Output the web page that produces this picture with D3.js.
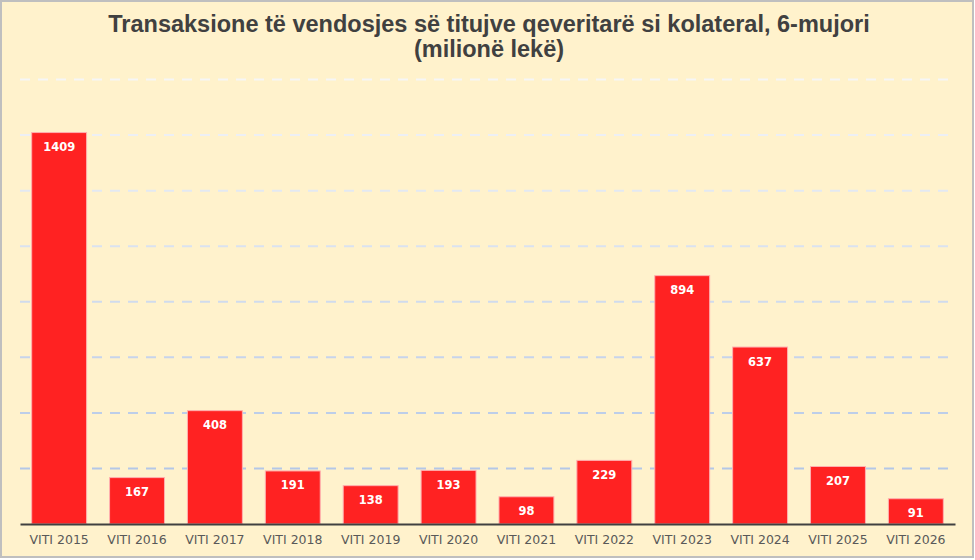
<!doctype html>
<html>
<head>
    <meta charset="utf-8">
    <style>
        body { margin: 0; }
        svg { display: block; }
        .bar { fill: #ff2222; stroke: #ffb0b0; stroke-width: 1; }
    </style>
    <script src="https://d3js.org/d3.v7.min.js"></script>
</head>
<body>
<svg width="975" height="560"></svg>
<script>
    var years = ["VITI 2015", "VITI 2016", "VITI 2017", "VITI 2018", "VITI 2019", "VITI 2020",
                 "VITI 2021", "VITI 2022", "VITI 2023", "VITI 2024", "VITI 2025", "VITI 2026"];
    var values = [1409, 167, 408, 191, 138, 193, 98, 229, 894, 637, 207, 91];
    var gridTicks = [200, 400, 600, 800, 1000, 1200, 1400, 1600];
    var titleLines = ["Transaksione të vendosjes së titujve qeveritarë si kolateral, 6-mujori",
                      "(milionë lekë)"];

    var svg = d3.select("svg");

    // background + frame
    svg.append("rect")
       .attr("x", 1).attr("y", 1)
       .attr("width", 972).attr("height", 556)
       .attr("fill", "#fff2cc")
       .attr("stroke", "#bfbfbf")
       .attr("stroke-width", 2);

    var plotLeft = 20, plotRight = 955, plotTop = 79.5, plotBottom = 524;

    var xScale = d3.scaleBand()
        .domain(years)
        .range([plotLeft, plotRight])
        .paddingInner(0.295)
        .paddingOuter(0.15);

    var yScale = d3.scaleLinear()
        .domain([0, 1600])
        .range([plotBottom, plotTop]);

    // gridlines fade from white at the top to light blue near the axis
    var gridColor = d3.scaleLinear()
        .domain([1600, 200])
        .range(["#f6f6f6", "#b4c7e7"]);

    svg.append("g")
       .selectAll("line")
       .data(gridTicks)
       .enter().append("line")
       .attr("x1", plotLeft)
       .attr("x2", plotRight - 2)
       .attr("y1", function(d) { return yScale(d); })
       .attr("y2", function(d) { return yScale(d); })
       .attr("stroke", function(d) { return gridColor(d); })
       .attr("stroke-width", 2)
       .attr("stroke-dasharray", "10,8");

    var data = years.map(function(y, i) { return { name: y, value: values[i] }; });

    svg.selectAll(".bar")
       .data(data)
       .enter().append("rect")
       .attr("class", "bar")
       .attr("x", function(d) { return xScale(d.name); })
       .attr("y", function(d) { return yScale(d.value); })
       .attr("width", xScale.bandwidth())
       .attr("height", function(d) { return plotBottom - yScale(d.value); });

    svg.selectAll(".lbl")
       .data(data)
       .enter().append("text")
       .attr("class", "lbl")
       .attr("x", function(d) { return xScale(d.name) + xScale.bandwidth() / 2; })
       .attr("y", function(d) { return yScale(d.value) + 18.5; })
       .attr("text-anchor", "middle")
       .attr("font-family", "DejaVu Sans")
       .attr("font-weight", "bold")
       .attr("font-size", "11.5px")
       .attr("fill", "#ffffff")
       .text(function(d) { return d.value; });

    // x axis
    var xAxis = svg.append("g")
       .attr("transform", "translate(0," + plotBottom + ")")
       .call(d3.axisBottom(xScale).tickSize(0).tickPadding(11));

    xAxis.select(".domain")
       .attr("stroke", "#404040")
       .attr("stroke-width", 2);

    xAxis.selectAll("text")
       .attr("font-family", "DejaVu Sans")
       .attr("font-size", "12.5px")
       .attr("fill", "#595959");

    // title
    svg.append("g")
       .selectAll("text")
       .data(titleLines)
       .enter().append("text")
       .attr("x", 489)
       .attr("y", function(d, i) { return 32 + i * 24.5; })
       .attr("text-anchor", "middle")
       .attr("font-family", "Liberation Sans")
       .attr("font-weight", "bold")
       .attr("font-size", "23.5px")
       .attr("fill", "#404040")
       .text(function(d) { return d; });
</script>
</body>
</html>
